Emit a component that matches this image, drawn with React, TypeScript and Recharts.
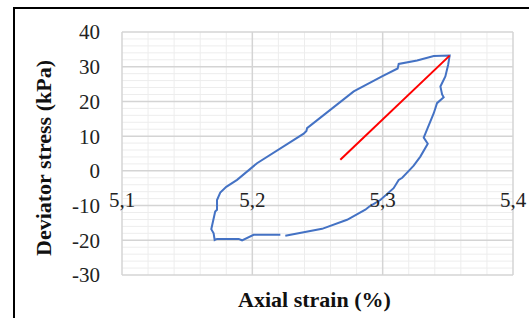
import { ComposedChart, Line, XAxis, YAxis, ReferenceLine, ReferenceDot, Label } from "recharts";

const BLUE = "#4472C4";
const RED = "#FF0000";

// hysteresis loop (strain %, stress kPa)
const loopStrain = [
  5.2253, 5.2535, 5.2727, 5.2867, 5.29, 5.2982, 5.3084, 5.3123, 5.315, 5.3213,
  5.3238, 5.3289, 5.3346, 5.3315, 5.3392, 5.3417, 5.3468, 5.3456, 5.3443, 5.3481,
  5.3502, 5.3514, 5.3392, 5.3264, 5.3123, 5.3115, 5.2995, 5.2778, 5.242, 5.2415,
  5.2394, 5.2036, 5.1883, 5.18, 5.1754, 5.1729, 5.1729, 5.1715, 5.1685, 5.1703,
  5.1711, 5.1729, 5.1895, 5.1921, 5.201, 5.2215,
];
const loopStress = [
  -18.7, -16.7, -14.1, -11.2, -10.2, -8.4, -5.0, -2.6, -2.0, 0.5,
  1.5, 4.1, 7.8, 9.6, 16.6, 19.5, 21.2, 22.0, 24.3, 27.2,
  30.5, 33.2, 33.1, 31.8, 30.8, 29.5, 27.2, 22.9, 12.3, 11.5,
  10.7, 2.2, -2.6, -4.6, -6.25, -8.4, -11.2, -11.7, -16.8, -18.0,
  -19.9, -19.6, -19.6, -20.0, -18.4, -18.4,
];

// secant line
const secantStrain = [5.2675, 5.3514];
const secantStress = [3.2, 33.2];

const xTicks = [5.1, 5.2, 5.3, 5.4];
const yTicks = [-30, -20, -10, 0, 10, 20, 30, 40];
const xMinor = [5.12, 5.14, 5.16, 5.18, 5.22, 5.24, 5.26, 5.28, 5.32, 5.34, 5.36, 5.38];
const yMinor = yTicks.slice(0, -1).flatMap((v) => [v + 2, v + 4, v + 6, v + 8]);

const loop = loopStrain.map((x, i) => ({ x, y: loopStress[i] }));
const secant = secantStrain.map((x, i) => ({ x, y: secantStress[i] }));

const serif = "Liberation Serif, Times New Roman, serif";

export default function App() {
  return (
    <div style={{ position: "relative", width: 529, height: 318, overflow: "hidden", background: "#fff" }}>
      <style>{"body{margin:0}"}</style>
      <div
        style={{
          position: "absolute",
          left: 13,
          top: 7,
          width: 700,
          height: 500,
          border: "2px solid #000",
          boxSizing: "border-box",
        }}
      />
      <div style={{ position: "absolute", left: 0, top: 0 }}>
        <ComposedChart width={529} height={318} margin={{ top: 32, right: 16, bottom: 43, left: 17 }}>
          <XAxis type="number" dataKey="x" domain={[5.1, 5.4]} ticks={xTicks} hide />
          <YAxis
            type="number"
            dataKey="y"
            domain={[-30, 40]}
            ticks={yTicks}
            width={105}
            axisLine={false}
            tickLine={false}
            tickSize={0}
            tickMargin={22}
            tick={{ fontSize: 21, fill: "#222", fontFamily: serif }}
            label={{
              content: () => (
                <text
                  x={43}
                  y={158}
                  transform="rotate(-90 43 158)"
                  textAnchor="middle"
                  dominantBaseline="central"
                  fontFamily={serif}
                  fontWeight="bold"
                  fontSize={22}
                  fill="#111"
                >
                  Deviator stress (kPa)
                </text>
              ),
            }}
          />
          {xMinor.map((v) => (
            <ReferenceLine key={"xm" + v} x={v} stroke="#ededed" strokeWidth={1} />
          ))}
          {yMinor.map((v) => (
            <ReferenceLine key={"ym" + v} y={v} stroke="#ededed" strokeWidth={1} />
          ))}
          {xTicks.map((v) => (
            <ReferenceLine key={"xM" + v} x={v} stroke="#d4d4d4" strokeWidth={1.5} />
          ))}
          {yTicks.map((v) => (
            <ReferenceLine key={"yM" + v} y={v} stroke="#d4d4d4" strokeWidth={1.5} />
          ))}
          <Line
            data={loop}
            dataKey="y"
            type="linear"
            stroke={BLUE}
            strokeWidth={2}
            dot={false}
            activeDot={false}
            isAnimationActive={false}
          />
          <Line
            data={secant}
            dataKey="y"
            type="linear"
            stroke={RED}
            strokeWidth={2}
            dot={false}
            activeDot={false}
            isAnimationActive={false}
          />
          {xTicks.map((v) => (
            <ReferenceDot key={"xl" + v} x={v} y={0} r={0} stroke="none" fill="none">
              <Label
                value={String(v).replace(".", ",")}
                position="bottom"
                offset={21}
                fontSize={21}
                fill="#222"
                fontFamily={serif}
              />
            </ReferenceDot>
          ))}
        </ComposedChart>
      </div>
      <div
        style={{
          position: "absolute",
          left: 0,
          top: 287,
          width: 629,
          textAlign: "center",
          fontFamily: serif,
          fontWeight: "bold",
          fontSize: 22,
          color: "#111",
          lineHeight: "26px",
        }}
      >
        Axial strain (%)
      </div>
    </div>
  );
}
